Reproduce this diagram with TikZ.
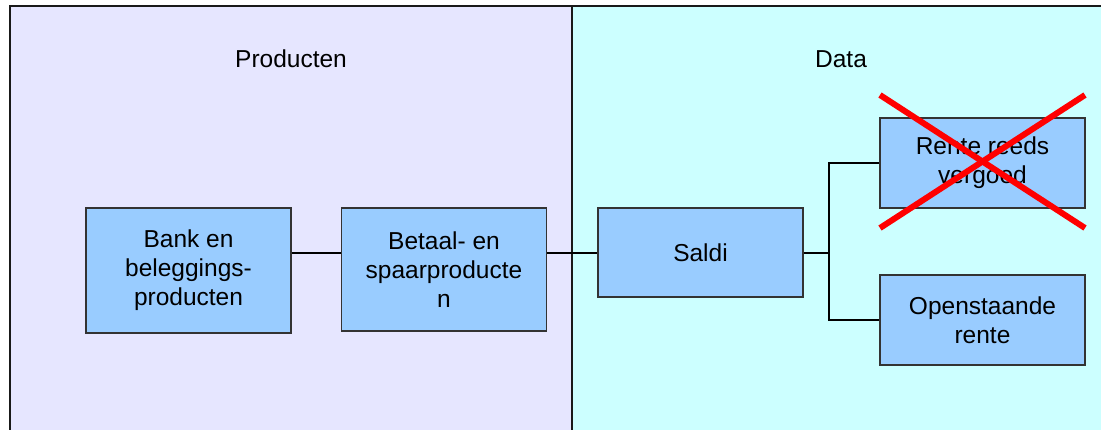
\documentclass[tikz,border=0pt]{standalone}
\usepackage{fontspec}
\setmainfont{Liberation Sans}
\definecolor{lav}{HTML}{E6E6FF}
\definecolor{cy}{HTML}{CCFFFF}
\definecolor{bx}{HTML}{99CCFF}
\definecolor{redx}{HTML}{FF0000}
\tikzset{
  panel/.style={line width=2.5pt, draw=black!90},
  box/.style={draw=black!80, line width=1.5pt, fill=bx, minimum width=205pt, align=center, inner sep=0pt, font=\fontsize{24.5}{29}\selectfont},
  conn/.style={line width=2pt, draw=black},
  lbl/.style={font=\fontsize{24.5}{29}\selectfont},
  cross/.style={line width=6pt, draw=redx}
}
\begin{document}
\begin{tikzpicture}[x=1pt,y=-1pt]
\useasboundingbox (0,0) rectangle (1101,429);
\begin{scope}
\clip (0,0) rectangle (1101,429);
\fill[white] (0,0) rectangle (1101,429);
\filldraw[panel, fill=lav] (10,6) rectangle (572,445);
\filldraw[panel, fill=cy] (572,6) rectangle (1115,445);
\end{scope}
\node[lbl] (prod) at (291,59) {Producten};
\node[lbl] (data) at (841,59) {Data};
\node[box, minimum height=125pt] (bank) at (188.5,270.5) {Bank en\\beleggings-\\producten};
\node[box, minimum height=123pt] (betaal) at (444,269.5) {Betaal- en\\spaarproducte\\n};
\node[box, minimum height=89pt] (saldi) at (700.5,252.5) {Saldi};
\node[box, minimum height=90pt] (rente) at (982.5,163) {Rente reeds\\vergoed};
\node[box, minimum height=90pt] (open) at (982.5,320) {Openstaande\\rente};
\draw[conn] (bank.east |- 0,252.5) -- (betaal.west |- 0,252.5);
\draw[conn] (betaal.east |- 0,252.5) -- (saldi.west |- 0,252.5);
\coordinate (br) at (829,252.5);
\draw[conn] (saldi.east |- br) -- (br) |- (rente.west);
\draw[conn] (br) |- (open.west);
\coordinate (x1) at (880,95);
\coordinate (x2) at (1085,228);
\coordinate (x3) at (880,228);
\coordinate (x4) at (1085,95);
\draw[cross] (x1) -- (x2);
\draw[cross] (x3) -- (x4);
\end{tikzpicture}
\end{document}
